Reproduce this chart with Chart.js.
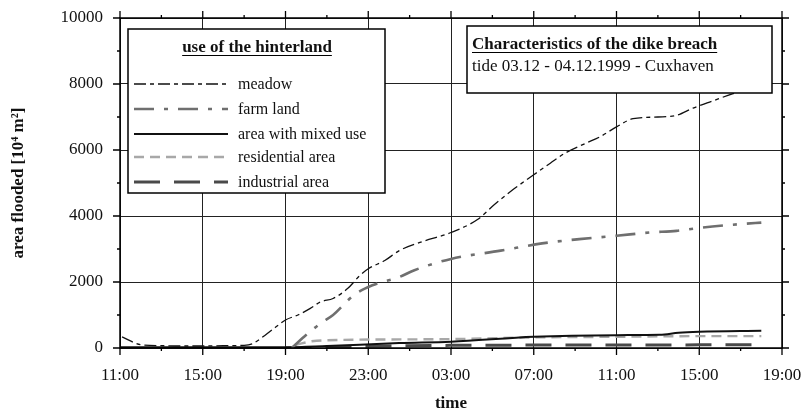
<!DOCTYPE html>
<html lang="en">
<head>
  <meta charset="UTF-8">
  <title>area flooded</title>
  <script src="https://cdn.jsdelivr.net/npm/chart.js"></script>
  <style>
    body { margin: 0; background: #fff; }
    #wrap { width: 804px; height: 414px; }
  </style>
</head>
<body>
  <div id="wrap"><canvas id="grafico"></canvas></div>
  <script>
    // hours after 11:00 on 03.12.1999
    const timeLabels = ["11:00", "15:00", "19:00", "23:00", "03:00", "07:00", "11:00", "15:00", "19:00"];

    const meadowH = [0.1, 1, 2, 3, 4, 5, 6, 6.4, 7, 7.5, 8, 8.6, 9.2, 9.7, 10.3, 11, 11.6, 12, 12.8, 13.5, 14.5, 16, 17.3, 18.1, 19, 20, 20.8, 21.5, 22.5, 23.2, 24, 24.8, 26, 26.9, 27.7, 28.5, 29.6, 31];
    const meadowV = [340, 100, 70, 60, 60, 70, 80, 130, 380, 620, 850, 1000, 1200, 1400, 1500, 1800, 2200, 2400, 2650, 2950, 3200, 3500, 3900, 4350, 4800, 5250, 5600, 5900, 6200, 6400, 6700, 6950, 7000, 7050, 7270, 7450, 7700, 7950];

    const farmH = [8.3, 8.9, 9.7, 10.3, 11.3, 12.2, 13.5, 14.2, 16, 18.4, 20.4, 22.2, 24, 25.6, 26.9, 28, 30.1, 31];
    const farmV = [0, 340, 750, 1000, 1600, 1900, 2150, 2350, 2700, 2950, 3170, 3300, 3400, 3500, 3550, 3640, 3760, 3800];

    const mixedH = [0, 4, 8, 10, 13.5, 16, 20, 24, 26.1, 27, 28, 31];
    const mixedV = [20, 20, 20, 60, 150, 190, 340, 390, 400, 460, 490, 520];

    const residH = [8.5, 9.5, 13.5, 16, 20, 24, 28, 31];
    const residV = [100, 220, 260, 270, 320, 340, 360, 360];

    const industH = [8, 12, 16, 24, 31];
    const industV = [0, 50, 80, 90, 100];

    const seriesNames = ["meadow", "farm land", "area with mixed use", "residential area", "industrial area"];

    const pts = (h, v) => h.map((x, i) => ({ x: x, y: v[i] }));
    const serif = '"Liberation Serif", "Times New Roman", serif';

    const styles = [
      { borderColor: '#111', borderWidth: 1.3, borderDash: [12, 4, 4, 4] },
      { borderColor: '#6f6f6f', borderWidth: 2.6, borderDash: [20, 10, 4, 10] },
      { borderColor: '#111', borderWidth: 2, borderDash: [] },
      { borderColor: '#a8a8a8', borderWidth: 2.4, borderDash: [10, 6] },
      { borderColor: '#4a4a4a', borderWidth: 3, borderDash: [26, 14] }
    ];

    const dataSets = [pts(meadowH, meadowV), pts(farmH, farmV), pts(mixedH, mixedV), pts(residH, residV), pts(industH, industV)];

    // frame, ticks on four sides, and the two boxes
    const decor = {
      id: 'decor',
      afterDatasetsDraw(chart) {
        const c = chart.ctx;
        const a = chart.chartArea;
        const xs = chart.scales.x, ys = chart.scales.y;
        c.save();
        c.strokeStyle = '#000';
        c.lineWidth = 1.5;
        c.strokeRect(a.left, a.top, a.right - a.left, a.bottom - a.top);
        c.lineWidth = 1.3;
        for (let h = 0; h <= 32; h += 2) {
          const px = xs.getPixelForValue(h);
          const len = h % 4 === 0 ? 7 : 3;
          c.beginPath();
          c.moveTo(px, a.bottom); c.lineTo(px, a.bottom + len);
          c.moveTo(px, a.top); c.lineTo(px, a.top - len);
          c.stroke();
        }
        for (let v = 0; v <= 10000; v += 1000) {
          const py = ys.getPixelForValue(v);
          const len = v % 2000 === 0 ? 7 : 3;
          c.beginPath();
          c.moveTo(a.left, py); c.lineTo(a.left - len, py);
          c.moveTo(a.right, py); c.lineTo(a.right + len, py);
          c.stroke();
        }

        // legend box
        c.fillStyle = '#fff';
        c.fillRect(128, 29, 257, 164);
        c.lineWidth = 1.5;
        c.strokeRect(128, 29, 257, 164);
        c.fillStyle = '#111';
        c.font = 'bold 17px ' + serif;
        c.textAlign = 'center';
        c.textBaseline = 'alphabetic';
        const t1 = 'use of the hinterland';
        c.fillText(t1, 257, 52);
        const w1 = c.measureText(t1).width;
        c.lineWidth = 1.2;
        c.beginPath(); c.moveTo(257 - w1 / 2, 55.5); c.lineTo(257 + w1 / 2, 55.5); c.stroke();
        c.font = '16px ' + serif;
        c.textAlign = 'left';
        c.textBaseline = 'middle';
        const rows = [84, 109, 134, 157, 182];
        seriesNames.forEach((name, i) => {
          const ds = chart.data.datasets[i];
          c.save();
          c.strokeStyle = ds.borderColor;
          c.lineWidth = ds.borderWidth;
          c.setLineDash(ds.borderDash);
          c.beginPath(); c.moveTo(134, rows[i]); c.lineTo(228, rows[i]); c.stroke();
          c.restore();
          c.fillText(name, 238, rows[i] + 1);
        });

        // info box
        c.fillStyle = '#fff';
        c.fillRect(467, 26, 305, 67);
        c.lineWidth = 1.5;
        c.strokeStyle = '#000';
        c.strokeRect(467, 26, 305, 67);
        c.fillStyle = '#111';
        c.textBaseline = 'alphabetic';
        c.font = 'bold 17px ' + serif;
        const t2 = 'Characteristics of the dike breach';
        c.fillText(t2, 472, 49);
        const w2 = c.measureText(t2).width;
        c.lineWidth = 1.2;
        c.beginPath(); c.moveTo(472, 52.5); c.lineTo(472 + w2, 52.5); c.stroke();
        c.font = '17px ' + serif;
        c.fillText('tide 03.12 - 04.12.1999 - Cuxhaven', 472, 71);
        c.restore();
      }
    };

    const ctx = document.getElementById('grafico');
    const grafico = new Chart(ctx, {
      type: 'line',
      data: {
        datasets: dataSets.map((d, i) => Object.assign({
          label: seriesNames[i],
          data: d,
          pointRadius: 0,
          fill: false,
          tension: 0,
          cubicInterpolationMode: 'monotone'
        }, styles[i]))
      },
      options: {
        responsive: true,
        maintainAspectRatio: false,
        animation: false,
        layout: { padding: { top: 18, right: 22, left: 0, bottom: 0 } },
        plugins: { legend: { display: false }, tooltip: { enabled: false } },
        scales: {
          x: {
            type: 'linear',
            min: 0,
            max: 32,
            afterFit: s => { s.height = 66; s.paddingLeft = 0; s.paddingRight = 0; },
            grid: { color: '#222', lineWidth: 1, drawTicks: false },
            border: { display: false },
            ticks: {
              stepSize: 4,
              padding: 17,
              maxRotation: 0,
              color: '#111',
              font: { family: serif, size: 17 },
              callback: (v, i) => timeLabels[i]
            },
            title: {
              display: true,
              text: 'time',
              color: '#111',
              font: { family: serif, size: 17, weight: 'bold' },
              padding: { top: 0, bottom: 0 }
            }
          },
          y: {
            min: 0,
            max: 10000,
            afterFit: s => { s.width = 120; s.paddingTop = 0; s.paddingBottom = 0; },
            grid: { color: '#222', lineWidth: 1, drawTicks: false },
            border: { display: false },
            ticks: {
              stepSize: 2000,
              padding: 17,
              color: '#111',
              font: { family: serif, size: 17 },
              callback: v => String(v)
            },
            title: {
              display: true,
              text: 'area flooded [10⁴ m²]',
              color: '#111',
              font: { family: serif, size: 17, weight: 'bold' },
              padding: { top: 8, bottom: 0 }
            }
          }
        }
      },
      plugins: [decor]
    });
  </script>
</body>
</html>
